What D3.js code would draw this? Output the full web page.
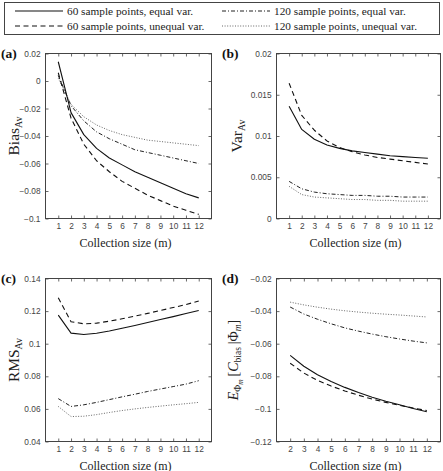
<!DOCTYPE html>
<html><head><meta charset="utf-8">
<script src="https://cdn.jsdelivr.net/npm/d3@7"></script>
<style>
html,body{margin:0;padding:0;background:#fff;}
svg{display:block;}
</style></head>
<body>
<svg id="chart" width="443" height="471"></svg>
<script>
// ---------- data ----------
const seriesNames = ["60 sample points, equal var.", "120 sample points, equal var.",
                     "60 sample points, unequal var.", "120 sample points, unequal var."];
const mValues = [1,2,3,4,5,6,7,8,9,10,11,12];
const mValuesD = [2,3,4,5,6,7,8,9,10,11,12];

// (a) Bias_Av
const bias60eq   = [0.014,-0.023,-0.039,-0.049,-0.056,-0.061,-0.066,-0.070,-0.074,-0.078,-0.082,-0.085];
const bias60uneq = [0.006,-0.027,-0.046,-0.058,-0.066,-0.073,-0.078,-0.083,-0.087,-0.091,-0.094,-0.097];
const bias120eq  = [0.004,-0.018,-0.029,-0.037,-0.042,-0.046,-0.050,-0.052,-0.054,-0.056,-0.058,-0.060];
const bias120uneq= [0.002,-0.017,-0.026,-0.032,-0.036,-0.039,-0.041,-0.043,-0.044,-0.045,-0.046,-0.047];

// (b) Var_Av
const var60eq   = [0.0136,0.0108,0.0096,0.0089,0.0085,0.0082,0.0080,0.0078,0.0076,0.0075,0.0074,0.0073];
const var60uneq = [0.0164,0.0125,0.0107,0.0094,0.0086,0.0081,0.0077,0.0074,0.0072,0.0070,0.0068,0.0066];
const var120eq  = [0.0045,0.0036,0.0032,0.0030,0.0029,0.0028,0.0028,0.0027,0.0027,0.0026,0.0026,0.0026];
const var120uneq= [0.0039,0.0029,0.0026,0.0025,0.0024,0.0023,0.0023,0.0022,0.0022,0.0021,0.0021,0.0021];

// (c) RMS_Av
const rms60eq   = [0.1175,0.1065,0.1056,0.1064,0.1078,0.1095,0.1112,0.1130,0.1148,0.1166,0.1185,0.1204];
const rms60uneq = [0.1282,0.1135,0.1122,0.1126,0.1138,0.1153,0.1169,0.1186,0.1204,0.1222,0.1240,0.1262];
const rms120eq  = [0.0663,0.0615,0.0625,0.0640,0.0657,0.0674,0.0690,0.0707,0.0722,0.0737,0.0752,0.0773];
const rms120uneq= [0.0615,0.0553,0.0555,0.0565,0.0578,0.0590,0.0600,0.0609,0.0617,0.0625,0.0632,0.0640];

// (d) E[C_bias | Phi_m]
const ecb60eq   = [-0.0672,-0.0738,-0.0790,-0.0832,-0.0868,-0.0900,-0.0928,-0.0953,-0.0975,-0.0997,-0.1018];
const ecb60uneq = [-0.0720,-0.0780,-0.0825,-0.0860,-0.0890,-0.0916,-0.0940,-0.0960,-0.0978,-0.0995,-0.1010];
const ecb120eq  = [-0.0375,-0.0418,-0.0450,-0.0478,-0.0503,-0.0523,-0.0541,-0.0557,-0.0571,-0.0584,-0.0595];
const ecb120uneq= [-0.0345,-0.0362,-0.0376,-0.0388,-0.0398,-0.0406,-0.0413,-0.0419,-0.0424,-0.0430,-0.0436];

// tick values / labels
const xTicksABC = [1,2,3,4,5,6,7,8,9,10,11,12];
const xTicksD = [2,3,4,5,6,7,8,9,10,11,12];
const biasTicks = [0.02,0,-0.02,-0.04,-0.06,-0.08,-0.1];
const biasTickLabels = ["0.02","0","\u22120.02","\u22120.04","\u22120.06","\u22120.08","\u22120.1"];
const varTicks = [0,0.005,0.01,0.015,0.02];
const varTickLabels = ["0","0.005","0.01","0.015","0.02"];
const rmsTicks = [0.04,0.06,0.08,0.1,0.12,0.14];
const rmsTickLabels = ["0.04","0.06","0.08","0.1","0.12","0.14"];
const ecbTicks = [-0.12,-0.1,-0.08,-0.06,-0.04,-0.02];
const ecbTickLabels = ["\u22120.12","\u22120.1","\u22120.08","\u22120.06","\u22120.04","\u22120.02"];
const xAxisTitle = "Collection size (m)";

// ---------- styles ----------
const styles = {
  "60eq":   {dash: null,            width: 1.1, color: "#111"},
  "60uneq": {dash: "5,3.5",         width: 1.1, color: "#111"},
  "120eq":  {dash: "4,2,1,2",       width: 1.0, color: "#222"},
  "120uneq":{dash: "1,1.6",         width: 0.9, color: "#555"}
};

const svg = d3.select("#chart");
const serif = "'Liberation Serif','Times New Roman',serif";
const sans = "'Liberation Sans',Arial,sans-serif";
const axisColor = "#444";

// ---------- legend ----------
const lg = svg.append("g");
lg.append("rect").attr("x",4.5).attr("y",2.5).attr("width",435).attr("height",32)
  .attr("fill","none").attr("stroke",axisColor).attr("stroke-width",1);
const legendItems = [
  {key:"60eq",   name:seriesNames[0], x:15, y:11},
  {key:"120eq",  name:seriesNames[1], x:222, y:11},
  {key:"60uneq", name:seriesNames[2], x:15, y:26},
  {key:"120uneq",name:seriesNames[3], x:222, y:26}
];
legendItems.forEach(it=>{
  const s = styles[it.key];
  lg.append("line").attr("x1",it.x).attr("x2",it.x+48).attr("y1",it.y).attr("y2",it.y)
    .attr("stroke",s.color).attr("stroke-width",s.width)
    .attr("stroke-dasharray",s.dash);
  lg.append("text").attr("x",it.x+52).attr("y",it.y+3.8)
    .attr("font-family",serif).attr("font-size",11.3).attr("fill","#222").text(it.name);
});

// ---------- panels ----------
const panels = [
  {label:"(a)", box:[45.5,211.5,53.5,218.5], xdom:[0,13], ydom:[-0.1,0.02], xs:mValues, xt:xTicksABC,
   yt:biasTicks, ytl:biasTickLabels,
   series:{"120uneq":bias120uneq,"120eq":bias120eq,"60uneq":bias60uneq,"60eq":bias60eq}, title:"bias"},
  {label:"(b)", box:[276.5,440.5,53.5,218.5], xdom:[0,13], ydom:[0,0.02], xs:mValues, xt:xTicksABC,
   yt:varTicks, ytl:varTickLabels,
   series:{"120uneq":var120uneq,"120eq":var120eq,"60uneq":var60uneq,"60eq":var60eq}, title:"var"},
  {label:"(c)", box:[45.5,211.5,278.5,441.5], xdom:[0,13], ydom:[0.04,0.14], xs:mValues, xt:xTicksABC,
   yt:rmsTicks, ytl:rmsTickLabels,
   series:{"120uneq":rms120uneq,"120eq":rms120eq,"60uneq":rms60uneq,"60eq":rms60eq}, title:"rms"},
  {label:"(d)", box:[276.5,440.5,278.5,441.5], xdom:[1,13], ydom:[-0.12,-0.02], xs:mValuesD, xt:xTicksD,
   yt:ecbTicks, ytl:ecbTickLabels,
   series:{"120uneq":ecb120uneq,"120eq":ecb120eq,"60uneq":ecb60uneq,"60eq":ecb60eq}, title:"ecb"}
];

panels.forEach(p=>{
  const [x0,x1,y0,y1] = p.box;
  const x = d3.scaleLinear().domain(p.xdom).range([x0,x1]);
  const y = d3.scaleLinear().domain(p.ydom).range([y1,y0]);
  const g = svg.append("g");

  // axes
  const fmtY = v => p.ytl[p.yt.indexOf(v)];
  const bottom = g.append("g").attr("transform",`translate(0,${y1})`)
    .call(d3.axisBottom(x).tickValues(p.xt).tickSize(-3).tickPadding(5).tickFormat(d3.format("d")));
  const top = g.append("g").attr("transform",`translate(0,${y0})`)
    .call(d3.axisTop(x).tickValues(p.xt).tickSize(-3).tickFormat(""));
  const left = g.append("g").attr("transform",`translate(${x0},0)`)
    .call(d3.axisLeft(y).tickValues(p.yt).tickSize(-3).tickPadding(5).tickFormat(fmtY));
  const right = g.append("g").attr("transform",`translate(${x1},0)`)
    .call(d3.axisRight(y).tickValues(p.yt).tickSize(-3).tickFormat(""));
  [bottom,top,left,right].forEach(a=>{
    a.select(".domain").remove();
    a.selectAll(".tick line").attr("stroke",axisColor).attr("stroke-width",0.8);
    a.selectAll(".tick text").attr("font-family",sans).attr("font-size",8.3).attr("fill","#444");
  });
  g.append("rect").attr("x",x0).attr("y",y0).attr("width",x1-x0).attr("height",y1-y0)
    .attr("fill","none").attr("stroke",axisColor).attr("stroke-width",1);

  // lines
  const line = d3.line().x((d,i)=>x(p.xs[i])).y(d=>y(d));
  Object.keys(p.series).forEach(k=>{
    const s = styles[k];
    g.append("path").datum(p.series[k]).attr("d",line).attr("fill","none")
      .attr("stroke",s.color).attr("stroke-width",s.width)
      .attr("stroke-dasharray",s.dash).attr("stroke-linejoin","round");
  });

  // panel label
  const lx = p.label==="(a)"||p.label==="(c)" ? 1 : 222;
  g.append("text").attr("x",lx).attr("y",y0+4.5).attr("font-family",serif)
    .attr("font-weight","bold").attr("font-size",13.5).attr("fill","#111").text(p.label);

  // x title
  g.append("text").attr("x",(x0+x1)/2 - 3).attr("y",y1+28).attr("text-anchor","middle")
    .attr("font-family",serif).attr("font-size",12).attr("fill","#222").text(xAxisTitle);

  // y title
  const cy = (y0+y1)/2;
  const tx = p.label==="(a)"||p.label==="(c)" ? 19 : (p.title==="var" ? 242 : 238);
  const t = g.append("text").attr("transform",`translate(${tx},${cy}) rotate(-90)`)
    .attr("text-anchor","middle").attr("font-family",serif).attr("fill","#222");
  if(p.title==="bias"||p.title==="var"||p.title==="rms"){
    const main = p.title==="bias"?"Bias":(p.title==="var"?"Var":"RMS");
    t.attr("font-size",15.5);
    t.append("tspan").text(main);
    t.append("tspan").attr("font-size",10).attr("dy",3).text("Av");
  } else {
    t.attr("font-size",14);
    t.append("tspan").attr("font-style","italic").text("E");
    t.append("tspan").attr("font-size",9.5).attr("dy",3).text("\u03A6");
    t.append("tspan").attr("font-size",7.5).attr("font-style","italic").attr("dy",1.5).text("m");
    t.append("tspan").attr("dy",-4.5).text("\u2009[");
    t.append("tspan").attr("font-style","italic").text("C");
    t.append("tspan").attr("font-size",9.5).attr("dy",3).text("bias");
    t.append("tspan").attr("dy",-3).text("\u2009|\u03A6");
    t.append("tspan").attr("font-size",9.5).attr("font-style","italic").attr("dy",3).text("m");
    t.append("tspan").attr("dy",-3).text("]");
  }
});
</script>
</body></html>
